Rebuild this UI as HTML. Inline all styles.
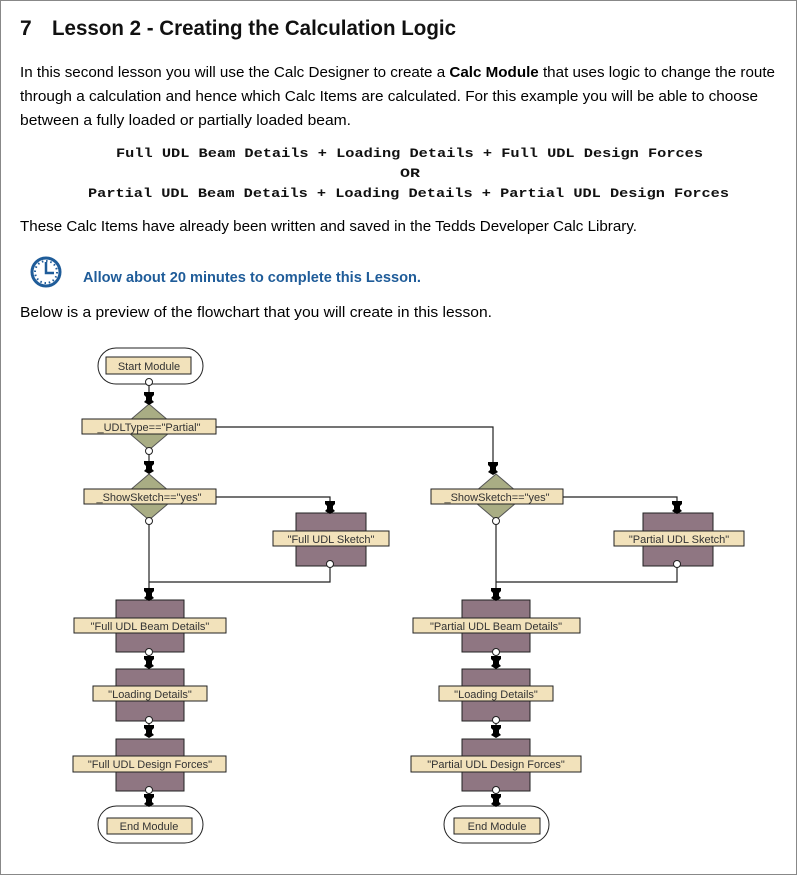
<!DOCTYPE html>
<html><head><meta charset="utf-8"><style>
html,body{margin:0;padding:0;background:#fff}
svg{display:block}
.b{font-family:"Liberation Sans",sans-serif;font-size:15px;fill:#000}
.m{font-family:"Liberation Mono",monospace;font-size:13px;font-weight:bold;fill:#111}
.l{font-family:"Liberation Sans",sans-serif;font-size:11px;fill:#333;text-anchor:middle}
.lb{fill:#f2e2bb;stroke:#222;stroke-width:1}
.bx{fill:#8f7682;stroke:#222;stroke-width:1}
.dm{fill:#a9ad84;stroke:#555;stroke-width:1}
.ln{fill:none;stroke:#222;stroke-width:1.2}
.c{fill:#fff;stroke:#222;stroke-width:1}
</style></head><body>
<svg width="797" height="875" viewBox="0 0 797 875" xmlns="http://www.w3.org/2000/svg">
<defs>
<path id="p" d="M-5,0 H5 V3 L3,5 V8 L5,10 L0,13 L-5,10 L-3,8 V5 L-5,3 Z" fill="#000"/>
</defs>
<rect x="0.5" y="0.5" width="796" height="874" fill="#fff" stroke="#888"/>
<text x="20" y="35" font-family="Liberation Sans,sans-serif" font-size="21" font-weight="bold" fill="#111">7</text>
<text x="52" y="35" font-family="Liberation Sans,sans-serif" font-size="21" font-weight="bold" fill="#111" textLength="404" lengthAdjust="spacingAndGlyphs">Lesson 2 - Creating the Calculation Logic</text>
<text class="b" x="20" y="77" textLength="755" lengthAdjust="spacingAndGlyphs">In this second lesson you will use the Calc Designer to create a <tspan font-weight="bold">Calc Module</tspan> that uses logic to change the route</text>
<text class="b" x="20" y="101" textLength="738" lengthAdjust="spacingAndGlyphs">through a calculation and hence which Calc Items are calculated. For this example you will be able to choose</text>
<text class="b" x="20" y="125" textLength="331" lengthAdjust="spacingAndGlyphs">between a fully loaded or partially loaded beam.</text>
<text class="m" x="116" y="157" textLength="587" lengthAdjust="spacingAndGlyphs">Full UDL Beam Details + Loading Details + Full UDL Design Forces</text>
<text class="m" x="400" y="177" textLength="20" lengthAdjust="spacingAndGlyphs">OR</text>
<text class="m" x="88" y="197" textLength="641" lengthAdjust="spacingAndGlyphs">Partial UDL Beam Details + Loading Details + Partial UDL Design Forces</text>
<text class="b" x="20" y="231" textLength="617" lengthAdjust="spacingAndGlyphs">These Calc Items have already been written and saved in the Tedds Developer Calc Library.</text>
<g stroke="#1f5c99" fill="none">
<circle cx="46" cy="272" r="14" stroke-width="3"/>
<circle cx="46" cy="272" r="11" stroke-width="2" stroke-dasharray="1.5 2.8"/>
<path d="M46,262 V273 H54" stroke-width="2.5"/>
</g>
<text x="83" y="282" font-family="Liberation Sans,sans-serif" font-size="15" font-weight="bold" fill="#1f5c99" textLength="338" lengthAdjust="spacingAndGlyphs">Allow about 20 minutes to complete this Lesson.</text>
<text class="b" x="20" y="317" textLength="472" lengthAdjust="spacingAndGlyphs">Below is a preview of the flowchart that you will create in this lesson.</text>

<g class="ln">
<path d="M149,382 V394"/>
<path d="M149,451 V464"/>
<path d="M216,427 H493 V464"/>
<path d="M216,497 H330 V504"/>
<path d="M149,521 V590"/>
<path d="M330,564 V582 H149"/>
<path d="M563,497 H677 V504"/>
<path d="M496,521 V590"/>
<path d="M677,564 V582 H496"/>
<path d="M149,652 V657 M149,720 V726 M149,790 V795"/>
<path d="M496,652 V657 M496,720 V726 M496,790 V795"/>
</g>

<rect x="98" y="348" width="105" height="36" rx="18" fill="#fff" stroke="#222"/>
<rect class="lb" x="106" y="357" width="85" height="17"/>
<text class="l" x="149" y="370">Start Module</text>

<polygon class="dm" points="149,404 176,427 149,450 122,427"/>
<rect class="lb" x="82" y="419" width="134" height="15"/>
<text class="l" x="149" y="431">_UDLType=="Partial"</text>

<polygon class="dm" points="149,474 176,497 149,520 122,497"/>
<rect class="lb" x="84" y="489" width="132" height="15"/>
<text class="l" x="149" y="501">_ShowSketch=="yes"</text>

<polygon class="dm" points="496,474 523,497 496,520 469,497"/>
<rect class="lb" x="431" y="489" width="132" height="15"/>
<text class="l" x="497" y="501">_ShowSketch=="yes"</text>

<rect class="bx" x="296" y="513" width="70" height="53"/>
<rect class="lb" x="273" y="531" width="116" height="15"/>
<text class="l" x="331" y="543">"Full UDL Sketch"</text>
<rect class="bx" x="643" y="513" width="70" height="53"/>
<rect class="lb" x="614" y="531" width="130" height="15"/>
<text class="l" x="679" y="543">"Partial UDL Sketch"</text>

<rect class="bx" x="116" y="600" width="68" height="52"/>
<rect class="lb" x="74" y="618" width="152" height="15"/>
<text class="l" x="150" y="630">"Full UDL Beam Details"</text>
<rect class="bx" x="116" y="669" width="68" height="52"/>
<rect class="lb" x="93" y="686" width="114" height="15"/>
<text class="l" x="150" y="698">"Loading Details"</text>
<rect class="bx" x="116" y="739" width="68" height="52"/>
<rect class="lb" x="73" y="756" width="153" height="16"/>
<text class="l" x="150" y="768">"Full UDL Design Forces"</text>
<rect x="98" y="806" width="105" height="37" rx="18.5" fill="#fff" stroke="#222"/>
<rect class="lb" x="107" y="818" width="85" height="16"/>
<text class="l" x="149" y="830">End Module</text>

<rect class="bx" x="462" y="600" width="68" height="52"/>
<rect class="lb" x="413" y="618" width="167" height="15"/>
<text class="l" x="496" y="630">"Partial UDL Beam Details"</text>
<rect class="bx" x="462" y="669" width="68" height="52"/>
<rect class="lb" x="439" y="686" width="114" height="15"/>
<text class="l" x="496" y="698">"Loading Details"</text>
<rect class="bx" x="462" y="739" width="68" height="52"/>
<rect class="lb" x="411" y="756" width="170" height="16"/>
<text class="l" x="496" y="768">"Partial UDL Design Forces"</text>
<rect x="444" y="806" width="105" height="37" rx="18.5" fill="#fff" stroke="#222"/>
<rect class="lb" x="454" y="818" width="86" height="16"/>
<text class="l" x="497" y="830">End Module</text>

<use href="#p" x="149" y="392"/>
<use href="#p" x="149" y="461"/>
<use href="#p" x="493" y="462"/>
<use href="#p" x="330" y="501"/>
<use href="#p" x="677" y="501"/>
<use href="#p" x="149" y="588"/>
<use href="#p" x="496" y="588"/>
<use href="#p" x="149" y="656"/>
<use href="#p" x="149" y="725"/>
<use href="#p" x="149" y="794"/>
<use href="#p" x="496" y="656"/>
<use href="#p" x="496" y="725"/>
<use href="#p" x="496" y="794"/>

<g class="c">
<circle cx="149" cy="382" r="3.5"/>
<circle cx="149" cy="451" r="3.5"/>
<circle cx="149" cy="521" r="3.5"/>
<circle cx="496" cy="521" r="3.5"/>
<circle cx="330" cy="564" r="3.5"/>
<circle cx="677" cy="564" r="3.5"/>
<circle cx="149" cy="652" r="3.5"/>
<circle cx="149" cy="720" r="3.5"/>
<circle cx="149" cy="790" r="3.5"/>
<circle cx="496" cy="652" r="3.5"/>
<circle cx="496" cy="720" r="3.5"/>
<circle cx="496" cy="790" r="3.5"/>
</g>
</svg>
</body></html>
